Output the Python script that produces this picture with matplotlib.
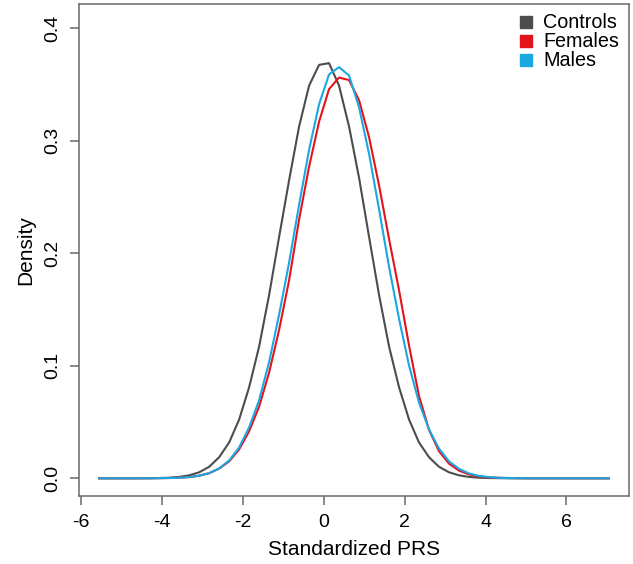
import matplotlib
matplotlib.use("Agg")
import matplotlib.pyplot as plt

plt.rcParams['font.family'] = ['Liberation Sans', 'DejaVu Sans']
plt.rcParams['axes.unicode_minus'] = False

# Density grid (standardized PRS) and estimated densities per group
prs = [-5.550, -5.303, -5.056, -4.809, -4.562, -4.315, -4.068, -3.821, -3.574, -3.326,
       -3.079, -2.832, -2.585, -2.338, -2.091, -1.844, -1.597, -1.350, -1.103, -0.856,
       -0.609, -0.362, -0.115, 0.132, 0.379, 0.626, 0.874, 1.121, 1.368, 1.615,
       1.862, 2.109, 2.356, 2.603, 2.850, 3.097, 3.344, 3.591, 3.838, 4.085,
       4.332, 4.579, 4.826, 5.074, 5.321, 5.568, 5.815, 6.062, 6.309, 6.556,
       6.803, 7.050]

controls = [0, 0, 0, 0, 0.0000, 0.0001, 0.0002, 0.0005, 0.0012, 0.0026,
            0.0053, 0.0102, 0.0187, 0.0318, 0.0522, 0.0809, 0.1171, 0.1629, 0.2145, 0.2649,
            0.3127, 0.3490, 0.3675, 0.3690, 0.3490, 0.3127, 0.2670, 0.2145, 0.1629, 0.1171,
            0.0809, 0.0522, 0.0318, 0.0187, 0.0102, 0.0053, 0.0026, 0.0012, 0.0005, 0.0002,
            0.0001, 0, 0, 0, 0, 0, 0, 0, 0, 0,
            0, 0]

females = [0, 0, 0, 0, 0, 0, 0.0001, 0.0002, 0.0005, 0.0011,
           0.0023, 0.0045, 0.0086, 0.0150, 0.0257, 0.0418, 0.0637, 0.0940, 0.1319, 0.1760,
           0.2300, 0.2770, 0.3170, 0.3460, 0.3562, 0.3540, 0.3360, 0.3032, 0.2603, 0.2127,
           0.1671, 0.1180, 0.0730, 0.0430, 0.0240, 0.0130, 0.0068, 0.0034, 0.0016, 0.0008,
           0.0004, 0.0002, 0.0001, 0, 0, 0, 0, 0, 0, 0,
           0, 0]

males = [0, 0, 0, 0, 0, 0, 0.0001, 0.0002, 0.0005, 0.0010,
         0.0022, 0.0046, 0.0088, 0.0157, 0.0274, 0.0452, 0.0695, 0.1033, 0.1454, 0.1918,
         0.2431, 0.2920, 0.3325, 0.3590, 0.3655, 0.3580, 0.3297, 0.2884, 0.2390, 0.1879,
         0.1417, 0.1002, 0.0672, 0.0435, 0.0263, 0.0150, 0.0084, 0.0043, 0.0021, 0.0010,
         0.0004, 0.0002, 0.0001, 0, 0, 0, 0, 0, 0, 0,
         0, 0]

groups = ["Controls", "Females", "Males"]
colors = ["#4d4d4d", "#e3141c", "#1aa7e2"]

x_ticks = [-6, -4, -2, 0, 2, 4, 6]
y_ticks = [0.0, 0.1, 0.2, 0.3, 0.4]

fig = plt.figure(figsize=(6.33, 5.64), dpi=100)
ax = fig.add_axes([0.1245, 0.1197, 0.8697, 0.8724])

for series, col in zip([controls, females, males], colors):
    ax.plot(prs, series, color=col, lw=1.5)

# R-style axis ranges (4% padding)
ax.set_xlim(-6.054, 7.554)
ax.set_ylim(-0.0162, 0.4212)

axis_grey = "#6a6a6a"
for sp in ax.spines.values():
    sp.set_color(axis_grey)
    sp.set_linewidth(1.1)

ax.set_xticks(x_ticks)
ax.set_xticklabels([str(t) for t in x_ticks])
ax.set_yticks(y_ticks)
ax.set_yticklabels([f"{t:.1f}" for t in y_ticks], rotation=90, va="center")
ax.tick_params(direction="out", length=6.2, width=1.1, color=axis_grey,
               labelsize=14, pad=6.5)

ax.set_xlabel("Standardized PRS", fontsize=15)
ax.set_ylabel("Density", fontsize=15)
ax.xaxis.set_label_coords(0.5, -0.108)
ax.xaxis.label.set_va("center")
ax.yaxis.set_label_coords(-0.097, 0.5)
ax.yaxis.label.set_va("center")

# legend (R style: filled squares, no box)
rows = [0.9515, 0.9129, 0.8743]
for name, col, yy in zip(groups, colors, rows):
    ax.plot([0.8124], [yy + 0.013], marker="s", ms=8.5, color=col,
            transform=ax.transAxes, clip_on=False, linestyle="none")
    ax.text(0.8438, yy, name, transform=ax.transAxes, fontsize=14.2,
            va="baseline", ha="left")

fig.savefig("out.png", dpi=100)
